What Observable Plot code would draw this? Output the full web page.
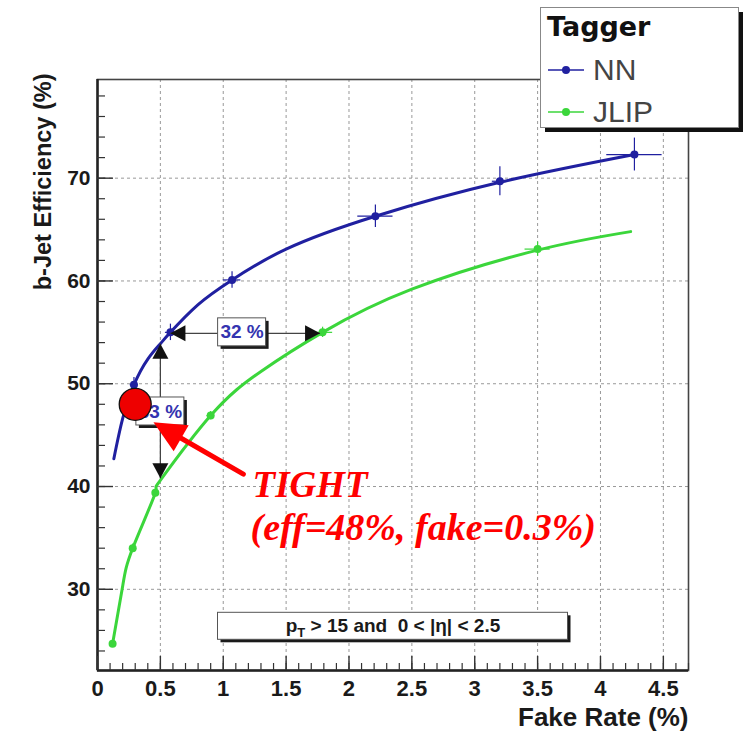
<!DOCTYPE html>
<html>
<head>
<meta charset="utf-8">
<script src="https://cdn.jsdelivr.net/npm/d3@7"></script>
<script src="https://cdn.jsdelivr.net/npm/@observablehq/plot@0.6"></script>
<style>
  body { margin: 0; background: #fff; }
  #chart { position: relative; width: 749px; height: 732px; }
  #legend { position: absolute; left: 0; top: 0; pointer-events: none; }
</style>
</head>
<body>
<div id="chart"></div>
<script>
// ---- axes ----
const xDomain = [0, 4.7];
const yDomain = [22.1, 79.6];
const xTicks = [0, 0.5, 1, 1.5, 2, 2.5, 3, 3.5, 4, 4.5];
const xTickLabels = ["0", "0.5", "1", "1.5", "2", "2.5", "3", "3.5", "4", "4.5"];
const yTicks = [30, 40, 50, 60, 70];
const yTickLabels = ["30", "40", "50", "60", "70"];
const xTitle = "Fake Rate (%)";
const yTitle = "b-Jet Efficiency (%)";

// ---- NN tagger: measured working points ----
const nnFake = [0.29, 0.58, 1.07, 2.21, 3.20, 4.27];
const nnEff = [49.9, 55.0, 60.1, 66.3, 69.7, 72.3];
const nnFakeErr = [0.03, 0.04, 0.07, 0.14, 0.06, 0.22];
const nnEffErr = [0.7, 0.8, 0.8, 1.1, 1.4, 1.6];
// NN fitted curve
const nnFitFake = [0.13, 0.2, 0.29, 0.4, 0.5, 0.58, 0.8, 1.07, 1.5, 2.21, 3.2, 4.27];
const nnFitEff = [42.7, 46.6, 49.9, 52.4, 53.9, 55.0, 57.7, 60.1, 63.1, 66.3, 69.6, 72.3];

// ---- JLIP tagger: measured working points ----
const jlipFake = [0.12, 0.28, 0.46, 0.90, 1.79, 3.50];
const jlipEff = [24.7, 34.0, 39.4, 46.9, 55.0, 63.1];
const jlipFakeErr = [0.01, 0.02, 0.02, 0.03, 0.08, 0.10];
const jlipEffErr = [0.3, 0.4, 0.4, 0.4, 0.5, 0.7];
// JLIP fitted curve
const jlipFitFake = [0.12, 0.2, 0.28, 0.46, 0.5, 0.9, 1.3, 1.79, 2.5, 3.5, 4.24];
const jlipFitEff = [24.7, 30.3, 34.0, 39.4, 40.6, 46.9, 51.2, 55.0, 59.2, 63.0, 64.8];

// ---- legend ----
const seriesNames = ["NN", "JLIP"];
const seriesColors = ["#2020a0", "#3bd63b"];
const legendTitle = "Tagger";

// ---- gain annotations ----
const vGain = {fake: 0.50, top: 53.9, bottom: 40.8};     // same fake rate, efficiency gain
const hGain = {eff: 54.9, left: 0.58, right: 1.77};      // same efficiency, fake rate gain
const gainLabels = [
  {fake: 1.15, eff: 55.0, text: "32 %"},
  {fake: 0.50, eff: 47.3, text: "33 %"}
];

// ---- selection cuts box ----
const cutsPos = {fake: 2.35, eff: 26.4};
const cutsText = ["p", "T", " > 15 and  0 < |η| < 2.5"];

// ---- TIGHT operating point ----
const tight = {fake: 0.3, eff: 48};
const tightArrow = {fromFake: 1.16, fromEff: 41.2, toFake: 0.445, toEff: 46.25};
const tightTitle = {fake: 1.233, eff: 38.95, text: "TIGHT"};
const tightValues = {fake: 1.217, eff: 34.77, text: "(eff=48%, fake=0.3%)"};

// ---- build records ----
const [blue, green] = seriesColors;
const nn = nnFake.map((f, i) => ({fake: f, eff: nnEff[i], ef: nnFakeErr[i], ee: nnEffErr[i]}));
const jlip = jlipFake.map((f, i) => ({fake: f, eff: jlipEff[i], ef: jlipFakeErr[i], ee: jlipEffErr[i]}));
const nnFit = nnFitFake.map((f, i) => ({fake: f, eff: nnFitEff[i]}));
const jlipFit = jlipFitFake.map((f, i) => ({fake: f, eff: jlipFitEff[i]}));

const W = 749, H = 732;
const mL = 97, mR = 61, mT = 79, mB = 62;
const innerW = W - mL - mR, innerH = H - mT - mB;

const sans = "'Liberation Sans', Arial, Helvetica, sans-serif";
const serif = "'Liberation Serif', 'Times New Roman', serif";

const xMinor = d3.range(0, 4.7001, 0.1).map(v => +v.toFixed(1));
const yMinor = d3.range(24, 79, 2);

// arrowhead symbol: tip at the anchor point, pointing up before rotation
const arrowhead = (len, wid) => ({
  draw(context) {
    context.moveTo(0, 0);
    context.lineTo(-wid / 2, len);
    context.lineTo(wid / 2, len);
    context.closePath();
  }
});
const smallHead = arrowhead(15, 16);
const bigHead = arrowhead(32, 30);

const errorBars = (data, color) => [
  Plot.ruleX(data, {x: "fake", y1: d => d.eff - d.ee, y2: d => d.eff + d.ee, stroke: color, strokeWidth: 1.2}),
  Plot.ruleY(data, {y: "eff", x1: d => d.fake - d.ef, x2: d => d.fake + d.ef, stroke: color, strokeWidth: 1.2})
];

const boxed = (data, hw, hh) => [
  Plot.rect(data, {x1: "fake", x2: "fake", y1: "eff", y2: "eff",
    insetLeft: -hw, insetRight: -hw, insetTop: -hh, insetBottom: -hh,
    fill: "#1a1a1a", dx: 3, dy: 3}),
  Plot.rect(data, {x1: "fake", x2: "fake", y1: "eff", y2: "eff",
    insetLeft: -hw, insetRight: -hw, insetTop: -hh, insetBottom: -hh,
    fill: "white", stroke: "#555", strokeWidth: 1})
];

const svg = Plot.plot({
  width: W, height: H,
  marginLeft: mL, marginRight: mR, marginTop: mT, marginBottom: mB,
  x: {domain: xDomain, axis: null},
  y: {domain: yDomain, axis: null},
  style: {background: "white", fontFamily: sans, overflow: "visible"},
  marks: [
    // dotted grid
    Plot.gridX(xTicks.slice(1), {stroke: "#777", strokeOpacity: 0.75, strokeDasharray: "3,3"}),
    Plot.gridY(yTicks, {stroke: "#777", strokeOpacity: 0.75, strokeDasharray: "3,3"}),
    // frame and main axis lines
    Plot.frame({stroke: "#444", strokeWidth: 1.6}),
    Plot.ruleX([xDomain[0]], {stroke: "#222", strokeWidth: 2.5}),
    Plot.ruleY([yDomain[0]], {stroke: "#222", strokeWidth: 2.5}),
    // inward ticks
    Plot.tickX(xMinor, {x: d => d, insetTop: innerH - 7, stroke: "#333", strokeWidth: 1.2}),
    Plot.tickX(xTicks, {x: d => d, insetTop: innerH - 14, stroke: "#333", strokeWidth: 1.4}),
    Plot.tickY(yMinor, {y: d => d, insetRight: innerW - 8, stroke: "#333", strokeWidth: 1.2}),
    Plot.tickY(yTicks, {y: d => d, insetRight: innerW - 16, stroke: "#333", strokeWidth: 1.4}),
    // tick labels
    Plot.text(xTicks, {x: d => d, frameAnchor: "bottom", dy: 18, lineAnchor: "middle",
      text: (d, i) => xTickLabels[i], fontSize: 22, fontWeight: "bold", fill: "#1a1a1a", fontFamily: sans}),
    Plot.text(yTicks, {y: d => d, frameAnchor: "left", dx: -7, textAnchor: "end", lineAnchor: "middle",
      text: (d, i) => yTickLabels[i], fontSize: 21, fontWeight: "bold", fill: "#1a1a1a", fontFamily: sans}),
    // axis titles
    Plot.text([xTitle], {frameAnchor: "bottom-right", dy: 47, textAnchor: "end", lineAnchor: "middle",
      text: d => d, fontSize: 26, fontWeight: "bold", fill: "#1a1a1a", fontFamily: sans}),
    Plot.text([yTitle], {frameAnchor: "top-left", dx: -54, dy: -6, rotate: -90, textAnchor: "end", lineAnchor: "middle",
      text: d => d, fontSize: 23.5, fontWeight: "bold", fill: "#1a1a1a", fontFamily: sans}),

    // fitted curves
    Plot.line(nnFit, {x: "fake", y: "eff", stroke: blue, strokeWidth: 3, curve: "natural"}),
    Plot.line(jlipFit, {x: "fake", y: "eff", stroke: green, strokeWidth: 3, curve: "natural"}),
    // measured points with errors
    ...errorBars(nn, blue),
    ...errorBars(jlip, green),
    Plot.dot(nn, {x: "fake", y: "eff", r: 4, fill: blue}),
    Plot.dot(jlip, {x: "fake", y: "eff", r: 4, fill: green}),

    // gain arrows
    Plot.link([vGain], {x1: "fake", x2: "fake", y1: "top", y2: "bottom", stroke: "#444", strokeWidth: 1.3}),
    Plot.link([hGain], {x1: "left", x2: "right", y1: "eff", y2: "eff", stroke: "#444", strokeWidth: 1.3}),
    Plot.dot([vGain], {x: "fake", y: "top", symbol: smallHead, r: 6, fill: "#111"}),
    Plot.dot([vGain], {x: "fake", y: "bottom", symbol: smallHead, r: 6, fill: "#111", rotate: 180}),
    Plot.dot([hGain], {x: "left", y: "eff", symbol: smallHead, r: 6, fill: "#111", rotate: -90}),
    Plot.dot([hGain], {x: "right", y: "eff", symbol: smallHead, r: 6, fill: "#111", rotate: 90}),
    ...boxed(gainLabels, 24, 14),
    Plot.text(gainLabels, {x: "fake", y: "eff", text: "text", fontSize: 19, fontWeight: "bold",
      fill: "#3434b0", fontFamily: sans}),

    // selection cuts
    ...boxed([cutsPos], 175, 13.5),
    Plot.text([cutsPos], {x: "fake", y: "eff", text: () => cutsText.join(""), fontSize: 19, fontWeight: "bold",
      fill: "#1a1a1a", fontFamily: sans}),

    // TIGHT working point
    Plot.dot([tight], {x: "fake", y: "eff", r: 16, fill: "#ee0000", stroke: "#111", strokeWidth: 1.3}),
    Plot.arrow([tightArrow], {x1: "fromFake", y1: "fromEff", x2: "toFake", y2: "toEff",
      stroke: "#ff0000", strokeWidth: 5, headLength: 0, insetEnd: 22}),
    Plot.dot([tightArrow], {x: "toFake", y: "toEff", symbol: bigHead, r: 12, fill: "#ff0000", rotate: -60}),
    Plot.text([tightTitle], {x: "fake", y: "eff", text: "text", textAnchor: "start", lineAnchor: "bottom",
      fontFamily: serif, fontStyle: "italic", fontWeight: "bold", fontSize: 37, fill: "#ff0000"}),
    Plot.text([tightValues], {x: "fake", y: "eff", text: "text", textAnchor: "start", lineAnchor: "bottom",
      fontFamily: serif, fontStyle: "italic", fontWeight: "bold", fontSize: 38, fill: "#ff0000"})
  ]
});

// subscript T in the cuts label
d3.select(svg).selectAll("text")
  .filter(function() { return this.textContent === cutsText.join(""); })
  .each(function() {
    const t = d3.select(this);
    t.text(null).style("white-space", "pre");
    t.append("tspan").text(cutsText[0]);
    t.append("tspan").attr("dy", 5).attr("font-size", 13).text(cutsText[1]);
    t.append("tspan").attr("dy", -5).text(cutsText[2]);
  });

const chart = document.getElementById("chart");
chart.appendChild(svg);

// legend box
const leg = d3.select(chart).append("svg").attr("id", "legend").attr("width", W).attr("height", 140);
leg.append("rect").attr("x", 545).attr("y", 12).attr("width", 198).attr("height", 120).attr("fill", "#111");
leg.append("rect").attr("x", 540.5).attr("y", 7.5).attr("width", 198).attr("height", 120)
  .attr("fill", "white").attr("stroke", "#888");
leg.append("text").attr("x", 547).attr("y", 36).attr("font-family", "'DejaVu Sans', sans-serif")
  .attr("font-weight", "bold").attr("font-size", 27).attr("fill", "#111").text(legendTitle);
const rowY = [70, 112];
seriesNames.forEach((name, i) => {
  const g = leg.append("g");
  g.append("line").attr("x1", 548).attr("x2", 584).attr("y1", rowY[i]).attr("y2", rowY[i])
    .attr("stroke", seriesColors[i]).attr("stroke-width", 1.3);
  g.append("circle").attr("cx", 566).attr("cy", rowY[i]).attr("r", 4).attr("fill", seriesColors[i]);
  g.append("text").attr("x", 593).attr("y", rowY[i] + 9.5).attr("font-family", sans)
    .attr("font-size", 30).attr("fill", "#444").text(name);
});
</script>
</body>
</html>
